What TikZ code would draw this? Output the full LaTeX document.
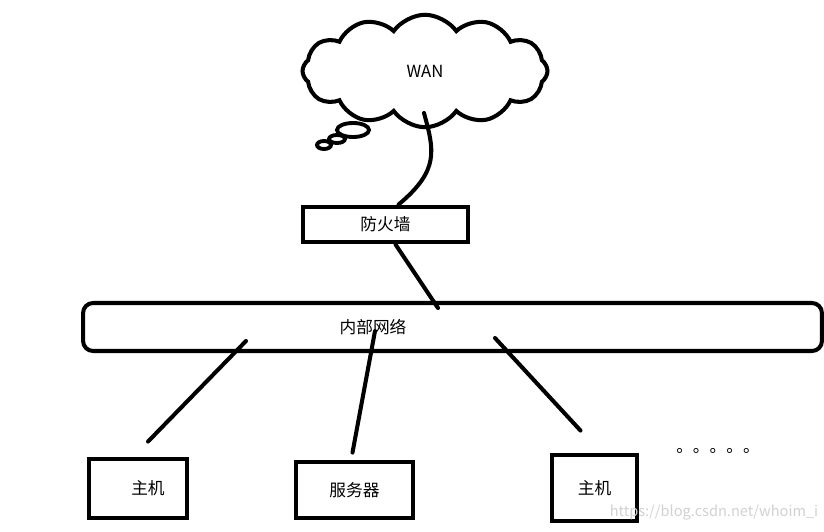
\documentclass[tikz,border=0pt]{standalone}
\usepackage{fontspec}
\setmainfont{Noto Sans CJK SC}
\usepackage{tikz}
\usetikzlibrary{positioning, calc, shapes.symbols}

\tikzset{
  wire/.style={line width=2.3pt, line cap=round},
  boxnode/.style={draw, line width=2.8pt, font=\fontsize{9.5}{11}\selectfont}
}

\begin{document}
\begin{tikzpicture}[x=0.02cm, y=-0.02cm]
\useasboundingbox (0, 0) rectangle (824, 531);

\node[cloud, draw, line width=2.3pt, cloud puffs=12, cloud puff arc=110, aspect=2.3,
      minimum width=4.9cm, minimum height=2.25cm, font=\fontsize{9.5}{11}\selectfont]
      (wan) at (425, 71) {WAN};
\draw[line width=2.2pt] (353, 130) ellipse [x radius=16, y radius=7];
\draw[line width=2.2pt] (337, 139) ellipse [x radius=8, y radius=4];
\draw[line width=2.2pt] (324, 145) ellipse [x radius=7, y radius=4];

\node[boxnode, minimum width=3.3cm, minimum height=0.7cm] (fw) at (385.5, 224.5) {防火墙};

\node[draw, line width=2.3pt, rounded corners=0.2cm, minimum width=14.78cm, minimum height=0.96cm] (lan) at (452.5, 327) {};
\node[font=\fontsize{9.5}{11}\selectfont] (lantext) at (373, 327) {内部网络};

\node[boxnode, minimum width=1.96cm, minimum height=1.18cm] (host1) at (138, 488.5) {\hspace{0.4cm}主机};
\node[boxnode, minimum width=2.34cm, minimum height=1.12cm] (srv) at (354.5, 490) {服务器};
\node[boxnode, minimum width=1.7cm, minimum height=1.32cm] (host2) at (594.5, 488) {主机};

\node[font=\fontsize{9.5}{11}\selectfont, inner sep=0pt] (more) at (718, 451) {。。。。。};
\node[text=black!18, font=\fontsize{8.3}{10}\selectfont, inner sep=0pt] (mark) at (714, 513) {https://blog.csdn.net/whoim\_i};

\coordinate (wanend) at (424, 113);
\coordinate (lantop) at (438, 308);
\coordinate (lan1) at (246, 341);
\coordinate (lan2) at (375, 331);
\coordinate (lan3) at (495, 338);

\draw[wire] (wanend) .. controls (434, 150) and (440, 170) .. ($(fw.north)+(13, 0)$);
\draw[wire] ($(fw.south)+(10, 0)$) -- (lantop);
\draw[wire] (lan1) -- ($(host1.north)+(10, -15)$);
\draw[wire] (lan2) -- ($(srv.north)+(-2, -7)$);
\draw[wire] (lan3) -- ($(host2.north)+(-14, -22)$);

\end{tikzpicture}
\end{document}
